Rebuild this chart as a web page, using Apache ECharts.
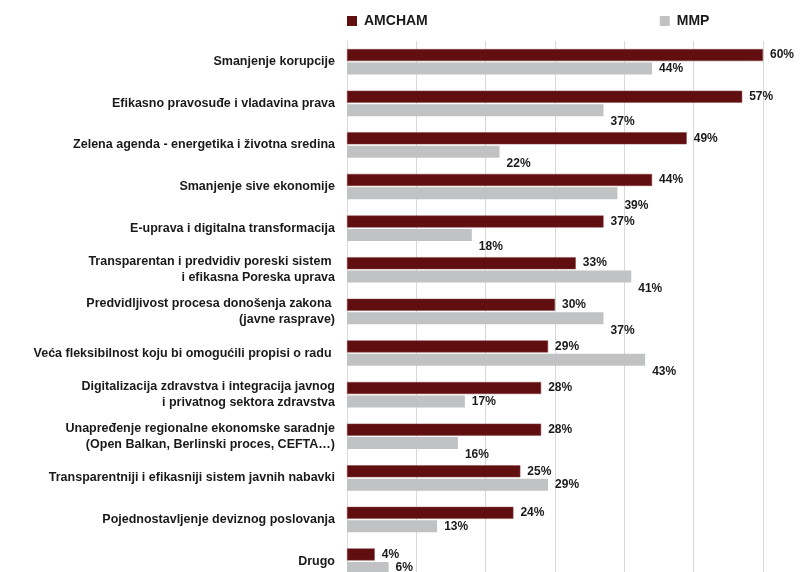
<!DOCTYPE html>
<html>
<head>
<meta charset="utf-8">
<script src="https://cdn.jsdelivr.net/npm/echarts@6/dist/echarts.min.js"></script>
<style>
  html, body { margin: 0; padding: 0; background: #fff; }
  #chart { width: 812px; height: 572px; }
</style>
</head>
<body>
<div id="chart"></div>
<script>
const categories = [
  'Smanjenje korupcije',
  'Efikasno pravosuđe i vladavina prava',
  'Zelena agenda - energetika i životna sredina',
  'Smanjenje sive ekonomije',
  'E-uprava i digitalna transformacija',
  'Transparentan i predvidiv poreski sistem \ni efikasna Poreska uprava',
  'Predvidljivost procesa donošenja zakona \n(javne rasprave)',
  'Veća fleksibilnost koju bi omogućili propisi o radu ',
  'Digitalizacija zdravstva i integracija javnog\ni privatnog sektora zdravstva',
  'Unapređenje regionalne ekonomske saradnje\n(Open Balkan, Berlinski proces, CEFTA…)',
  'Transparentniji i efikasniji sistem javnih nabavki',
  'Pojednostavljenje deviznog poslovanja',
  'Drugo'
];
const amcham = [60, 57, 49, 44, 37, 33, 30, 29, 28, 28, 25, 24, 4];
const mmp = [44, 37, 22, 39, 18, 41, 37, 43, 17, 16, 29, 13, 6];

// which MMP labels sit a bit lower than their bar (as in the source)
const mmpLabelLow = [0, 1, 1, 1, 1, 1, 1, 1, 0, 1, 0, 0, 0];

const chart = echarts.init(document.getElementById('chart'));

const labelStyle = {
  show: true,
  position: 'right',
  distance: 7,
  formatter: '{c}%',
  color: '#1a1a1a',
  fontFamily: 'Liberation Sans',
  fontWeight: 'bold',
  fontSize: 12
};

chart.setOption({
  animation: false,
  legend: {
    left: 347,
    top: 14,
    padding: 0,
    itemWidth: 10,
    itemHeight: 10,
    itemGap: 232,
    icon: 'rect',
    itemStyle: { borderWidth: 0 },
    textStyle: {
      fontFamily: 'Liberation Sans',
      fontWeight: 'bold',
      fontSize: 14,
      color: '#1a1a1a',
      padding: [0, 0, 0, 2]
    },
    data: ['AMCHAM', 'MMP']
  },
  grid: {
    left: 347,
    right: 49,
    top: 41,
    height: 541,
    outerBoundsMode: 'none'
  },
  xAxis: {
    type: 'value',
    min: 0,
    max: 60,
    interval: 10,
    axisLabel: { show: false },
    axisLine: { show: false },
    axisTick: { show: false },
    splitLine: { lineStyle: { color: '#d9d9d9', width: 1 } }
  },
  yAxis: {
    type: 'category',
    inverse: true,
    data: categories,
    axisTick: { show: false },
    axisLine: { show: true, lineStyle: { color: '#d9d9d9' } },
    axisLabel: {
      margin: 12,
      color: '#1a1a1a',
      fontFamily: 'Liberation Sans',
      fontWeight: 'bold',
      fontSize: 12.5,
      lineHeight: 16,
      align: 'right'
    }
  },
  series: [
    {
      name: 'AMCHAM',
      type: 'bar',
      data: amcham,
      barWidth: 12,
      barGap: '12%',
      itemStyle: { color: '#600e0f', borderColor: '#8a4446', borderWidth: 0.5 },
      label: labelStyle
    },
    {
      name: 'MMP',
      type: 'bar',
      data: mmp.map((v, i) => ({
        value: v,
        label: { offset: [0, mmpLabelLow[i] ? 12 : 0] }
      })),
      barWidth: 12,
      itemStyle: { color: '#c1c2c4' },
      label: labelStyle
    }
  ]
});
</script>
</body>
</html>
